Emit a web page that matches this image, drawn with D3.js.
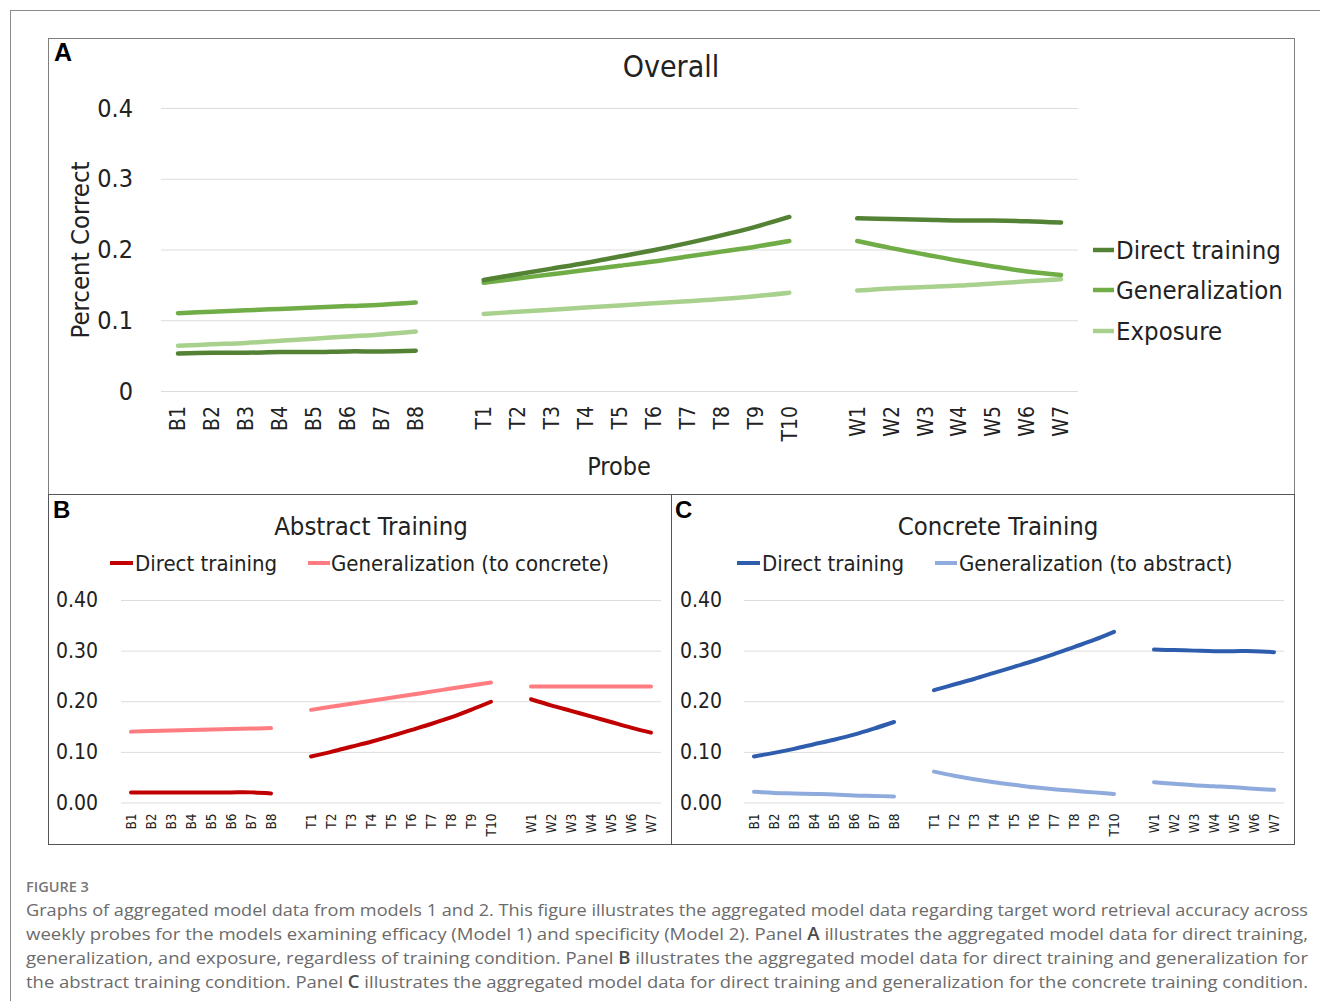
<!DOCTYPE html>
<html>
<head>
<meta charset="utf-8">
<script src="https://cdn.jsdelivr.net/npm/d3@7"></script>
<style>
  html, body { margin: 0; padding: 0; background: #fff; }
  svg { display: block; }
</style>
</head>
<body>
<svg id="fig" width="1320" height="1001"></svg>
<script>
// Probe labels for the three phases: baseline, training, withdrawal
const baselineProbes = ["B1", "B2", "B3", "B4", "B5", "B6", "B7", "B8"];
const trainingProbes = ["T1", "T2", "T3", "T4", "T5", "T6", "T7", "T8", "T9", "T10"];
const withdrawalProbes = ["W1", "W2", "W3", "W4", "W5", "W6", "W7"];

// Panel A: overall accuracy (values in B, T, W order)
const overallDirect = [0.053, 0.054, 0.054, 0.055, 0.055, 0.056, 0.056, 0.057,
  0.157, 0.165, 0.173, 0.181, 0.190, 0.199, 0.209, 0.220, 0.232, 0.246,
  0.244, 0.243, 0.242, 0.241, 0.241, 0.240, 0.238];
const overallGeneralization = [0.110, 0.112, 0.114, 0.116, 0.118, 0.120, 0.122, 0.125,
  0.153, 0.159, 0.165, 0.171, 0.177, 0.183, 0.190, 0.197, 0.204, 0.212,
  0.212, 0.202, 0.193, 0.184, 0.176, 0.169, 0.164];
const overallExposure = [0.064, 0.066, 0.068, 0.071, 0.074, 0.077, 0.080, 0.084,
  0.109, 0.112, 0.115, 0.118, 0.121, 0.124, 0.127, 0.130, 0.134, 0.139,
  0.142, 0.145, 0.147, 0.149, 0.152, 0.155, 0.158];

// Panel B: abstract training condition
const abstractDirect = [0.020, 0.020, 0.020, 0.020, 0.020, 0.020, 0.020, 0.018,
  0.091, 0.100, 0.110, 0.120, 0.131, 0.143, 0.155, 0.168, 0.183, 0.199,
  0.204, 0.192, 0.181, 0.170, 0.159, 0.148, 0.138];
const abstractGeneralization = [0.140, 0.141, 0.142, 0.143, 0.144, 0.145, 0.146, 0.147,
  0.183, 0.189, 0.195, 0.201, 0.207, 0.213, 0.219, 0.225, 0.231, 0.237,
  0.229, 0.229, 0.229, 0.229, 0.229, 0.229, 0.229];

// Panel C: concrete training condition
const concreteDirect = [0.091, 0.098, 0.106, 0.115, 0.124, 0.134, 0.146, 0.159,
  0.222, 0.233, 0.244, 0.256, 0.268, 0.280, 0.293, 0.307, 0.321, 0.337,
  0.302, 0.301, 0.300, 0.299, 0.299, 0.299, 0.297];
const concreteGeneralization = [0.021, 0.019, 0.018, 0.017, 0.016, 0.014, 0.013, 0.012,
  0.061, 0.053, 0.046, 0.040, 0.035, 0.030, 0.026, 0.023, 0.020, 0.017,
  0.040, 0.037, 0.034, 0.032, 0.030, 0.027, 0.025];

const overallTicks = [0, 0.1, 0.2, 0.3, 0.4];
const panelTicks = [0, 0.1, 0.2, 0.3, 0.4];

const phases = [baselineProbes, trainingProbes, withdrawalProbes];
// Category axis with an empty slot between phases so the lines break
const categories = [...baselineProbes, "gap1", ...trainingProbes, "gap2", ...withdrawalProbes];

const chartFont = "'Liberation Sans Narrow', 'DejaVu Sans Condensed', sans-serif";
const svg = d3.select("#fig");

// Outer figure frame
svg.append("rect")
  .attr("x", 10.5).attr("y", 10.5).attr("width", 1400).attr("height", 1100)
  .attr("fill", "none").attr("stroke", "#8a8a8a").attr("stroke-width", 1);

// Split a 25-value series into phase segments
function segments(values) {
  const out = [];
  let i = 0;
  phases.forEach(p => {
    out.push(p.map((c, k) => ({ cat: c, v: values[i + k] })));
    i += p.length;
  });
  return out;
}

function drawPanel(cfg) {
  const g = svg.append("g");
  const x = d3.scaleBand().domain(categories).range(cfg.xRange).padding(0);
  const y = d3.scaleLinear().domain([0, 0.4]).range(cfg.yRange);
  const gridW = cfg.xRange[1] - cfg.xRange[0];

  // Horizontal gridlines and value labels
  const yAxis = g.append("g")
    .attr("transform", `translate(${cfg.xRange[0]},0)`)
    .call(d3.axisLeft(y).tickValues(cfg.ticks).tickFormat(cfg.tickFormat)
      .tickSize(-gridW).tickPadding(cfg.yPad));
  yAxis.select(".domain").remove();
  yAxis.selectAll("line").attr("stroke", "#dcdcdc").attr("stroke-width", 1);
  yAxis.selectAll("text")
    .attr("font-family", chartFont).attr("font-size", cfg.yFont).attr("fill", "#222");

  // Probe labels along the bottom
  const xAxis = g.append("g")
    .attr("transform", `translate(0,${cfg.yRange[0]})`)
    .call(d3.axisBottom(x).tickSize(0).tickFormat(d => d.startsWith("gap") ? "" : d));
  xAxis.select(".domain").remove();
  xAxis.selectAll("text")
    .attr("font-family", chartFont).attr("font-size", cfg.xFont).attr("fill", "#222")
    .attr("transform", "rotate(-90)")
    .attr("text-anchor", "end")
    .attr("x", -cfg.xPad).attr("y", 0).attr("dy", "0.35em");

  const line = d3.line()
    .x(d => x(d.cat) + x.bandwidth() / 2)
    .y(d => y(d.v))
    .curve(d3.curveCatmullRom.alpha(0.5));

  cfg.series.forEach(s => {
    segments(s.values).forEach(seg => {
      g.append("path")
        .attr("d", line(seg))
        .attr("fill", "none")
        .attr("stroke", s.color)
        .attr("stroke-width", cfg.lineW)
        .attr("stroke-linecap", "round")
        .attr("stroke-linejoin", "round");
    });
  });
  return g;
}

// ---------- Panel A ----------
svg.append("rect").attr("x", 48.5).attr("y", 38.5).attr("width", 1246).attr("height", 456)
  .attr("fill", "none").attr("stroke", "#7f7f7f");

const greenDark = "#548235", greenMid = "#70AD47", greenLight = "#A9D18E";
drawPanel({
  xRange: [161, 1078], yRange: [391, 108],
  ticks: overallTicks, tickFormat: d => d === 0 ? "0" : d3.format(".1f")(d),
  yPad: 28, yFont: 25, xFont: 21, xPad: 15, lineW: 4.5,
  series: [
    { values: overallExposure, color: greenLight },
    { values: overallGeneralization, color: greenMid },
    { values: overallDirect, color: greenDark }
  ]
});

svg.append("text").text("Overall")
  .attr("x", 671).attr("y", 66).attr("text-anchor", "middle").attr("dominant-baseline", "central")
  .attr("font-family", chartFont).attr("font-size", 30).attr("fill", "#222");
svg.append("text").text("Percent Correct")
  .attr("transform", "translate(80,250) rotate(-90)")
  .attr("text-anchor", "middle").attr("dominant-baseline", "central")
  .attr("font-family", chartFont).attr("font-size", 25.5).attr("fill", "#222");
svg.append("text").text("Probe")
  .attr("x", 619).attr("y", 466).attr("text-anchor", "middle").attr("dominant-baseline", "central")
  .attr("font-family", chartFont).attr("font-size", 25).attr("fill", "#222");
svg.append("text").text("A")
  .attr("x", 54).attr("y", 61)
  .attr("font-family", "'Liberation Sans', Arial, sans-serif").attr("font-weight", "bold")
  .attr("font-size", 25).attr("fill", "#000");

const legendA = [
  { label: "Direct training", color: greenDark, y: 250 },
  { label: "Generalization", color: greenMid, y: 290 },
  { label: "Exposure", color: greenLight, y: 331 }
];
legendA.forEach(d => {
  svg.append("line").attr("x1", 1093).attr("x2", 1114).attr("y1", d.y).attr("y2", d.y)
    .attr("stroke", d.color).attr("stroke-width", 4.5);
  svg.append("text").text(d.label).attr("x", 1116).attr("y", d.y)
    .attr("dominant-baseline", "central")
    .attr("font-family", chartFont).attr("font-size", 25.5).attr("fill", "#222");
});

// ---------- Panels B and C ----------
svg.append("rect").attr("x", 48.5).attr("y", 494.5).attr("width", 623).attr("height", 350)
  .attr("fill", "none").attr("stroke", "#555");
svg.append("rect").attr("x", 671.5).attr("y", 494.5).attr("width", 623).attr("height", 350)
  .attr("fill", "none").attr("stroke", "#555");

const redDark = "#C00000", redLight = "#FF7C80";
const blueDark = "#2F5DAE", blueLight = "#8FAADC";

drawPanel({
  xRange: [121, 661], yRange: [802.5, 600],
  ticks: panelTicks, tickFormat: d3.format(".2f"),
  yPad: 23, yFont: 21, xFont: 13.5, xPad: 11, lineW: 4,
  series: [
    { values: abstractGeneralization, color: redLight },
    { values: abstractDirect, color: redDark }
  ]
});
drawPanel({
  xRange: [744, 1284], yRange: [802.5, 600],
  ticks: panelTicks, tickFormat: d3.format(".2f"),
  yPad: 22, yFont: 21, xFont: 13.5, xPad: 11, lineW: 4,
  series: [
    { values: concreteGeneralization, color: blueLight },
    { values: concreteDirect, color: blueDark }
  ]
});

const smallPanels = [
  { letter: "B", lx: 53, title: "Abstract Training", tx: 371,
    legend: [
      { label: "Direct training", color: redDark, x1: 110, x2: 133, tx: 135 },
      { label: "Generalization (to concrete)", color: redLight, x1: 308, x2: 330, tx: 331 }
    ] },
  { letter: "C", lx: 675, title: "Concrete Training", tx: 998,
    legend: [
      { label: "Direct training", color: blueDark, x1: 737, x2: 760, tx: 762 },
      { label: "Generalization (to abstract)", color: blueLight, x1: 935, x2: 957, tx: 959 }
    ] }
];
smallPanels.forEach(p => {
  svg.append("text").text(p.letter).attr("x", p.lx).attr("y", 518)
    .attr("font-family", "'Liberation Sans', Arial, sans-serif").attr("font-weight", "bold")
    .attr("font-size", 24).attr("fill", "#000");
  svg.append("text").text(p.title).attr("x", p.tx).attr("y", 526)
    .attr("text-anchor", "middle").attr("dominant-baseline", "central")
    .attr("font-family", chartFont).attr("font-size", 25.5).attr("fill", "#222");
  p.legend.forEach(d => {
    svg.append("line").attr("x1", d.x1).attr("x2", d.x2).attr("y1", 563).attr("y2", 563)
      .attr("stroke", d.color).attr("stroke-width", 4);
    svg.append("text").text(d.label).attr("x", d.tx).attr("y", 563)
      .attr("dominant-baseline", "central")
      .attr("font-family", chartFont).attr("font-size", 22).attr("fill", "#222");
  });
});

// ---------- Caption ----------
const captionFont = "'Open Sans', 'Noto Sans', sans-serif";
svg.append("text").text("FIGURE 3").attr("x", 26).attr("y", 892)
  .attr("font-family", captionFont).attr("font-size", 14.5).attr("font-weight", 600)
  .attr("fill", "#777");

const captionLines = [
  [["Graphs of aggregated model data from models 1 and 2. This figure illustrates the aggregated model data regarding target word retrieval accuracy across", false]],
  [["weekly probes for the models examining efficacy (Model 1) and specificity (Model 2). Panel ", false], ["A", true], [" illustrates the aggregated model data for direct training,", false]],
  [["generalization, and exposure, regardless of training condition. Panel ", false], ["B", true], [" illustrates the aggregated model data for direct training and generalization for", false]],
  [["the abstract training condition. Panel ", false], ["C", true], [" illustrates the aggregated model data for direct training and generalization for the concrete training condition.", false]]
];
captionLines.forEach((parts, i) => {
  const t = svg.append("text").attr("x", 26).attr("y", 916 + i * 24)
    .attr("font-family", captionFont).attr("font-size", 17.2).attr("fill", "#6b6b6b")
    .attr("textLength", 1282).attr("lengthAdjust", "spacingAndGlyphs");
  parts.forEach(([s, bold]) => {
    t.append("tspan").text(s).attr("font-weight", bold ? 600 : 400)
      .attr("fill", bold ? "#4a4a4a" : "#6b6b6b");
  });
});
</script>
</body>
</html>
